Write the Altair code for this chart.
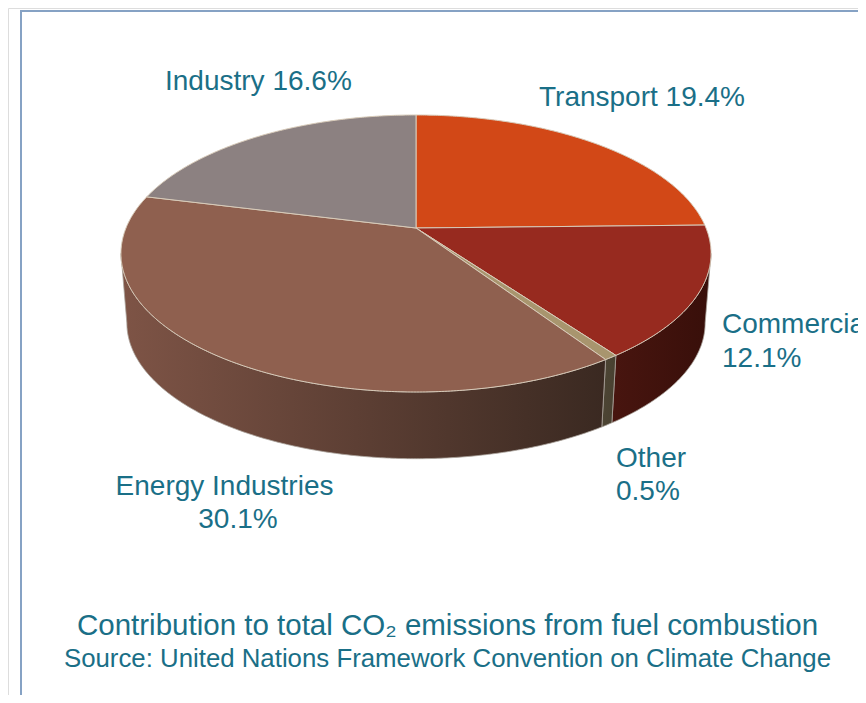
import math
import altair as alt
import pandas as pd

# ---- data ----
sectors = ["Transport", "Commercial", "Other", "Energy Industries", "Industry"]
shares = [19.4, 12.1, 0.5, 30.1, 16.6]
top_colors = ["#D24817", "#972A1F", "#A8956E", "#8F604F", "#8C8181"]
wall_colors = {"Commercial": ("#48150F", "#380F0A"),
               "Other": ("#4D4534", "#484030"),
               "Energy Industries": ("#7E5446", "#3A2921")}
title_line = "Contribution to total CO\u2082 emissions from fuel combustion"
source_line = "Source: United Nations Framework Convention on Climate Change"

# ---- pie geometry (perspective ellipse), in chart pixels ----
CX, CY = 408.0, 220.0   # apex of the pie
A, B, K = 133.8, 290.0, 0.184
DEPTH, BOT_SCALE = 70.0, 0.98


def rim(phi, bottom=False):
    r = math.radians(phi)
    u, v = math.sin(r), -math.cos(r)
    s = 1.0 / (1.0 - K * v)
    sc = BOT_SCALE if bottom else 1.0
    return [CX + B * u * s * sc, CY + (DEPTH if bottom else 0.0) + A * v * s * sc]


def arc(a, b, bottom=False):
    n = max(2, int(abs(b - a) / 0.5) + 1)
    return [rim(a + (b - a) * i / (n - 1), bottom) for i in range(n)]


total = sum(shares)
starts, ends = [], []
acc = 0.0
for s in shares:
    starts.append(acc / total * 360.0)
    acc += s
    ends.append(acc / total * 360.0)

# visible front arc of the side wall (between the right and left extremes)
front_a = 180.0 - math.degrees(math.acos(K))
front_b = 360.0 - front_a

PROJ = dict(type="identity", scale=1, translate=[0, 0])

top_features = []
for name, a, b, col in zip(sectors, starts, ends, top_colors):
    ring = [[CX, CY]] + arc(a, b) + [[CX, CY]]
    top_features.append({"type": "Feature",
                         "geometry": {"type": "Polygon", "coordinates": [ring]},
                         "properties": {"name": name, "fill": col}})

wall_layers = []
for name, a, b in zip(sectors, starts, ends):
    lo, hi = max(a, front_a), min(b, front_b)
    if hi <= lo or name not in wall_colors:
        continue
    ring = arc(lo, hi) + arc(hi, lo, bottom=True)
    ring.append(ring[0])
    feat = {"type": "Feature",
            "geometry": {"type": "Polygon", "coordinates": [ring]},
            "properties": {"name": name}}
    c0, c1 = wall_colors[name]
    wall_layers.append(
        alt.Chart(alt.Data(values=[feat])).mark_geoshape(
            fill=alt.Gradient(gradient="linear",
                              stops=[alt.GradientStop(color=c0, offset=0),
                                     alt.GradientStop(color=c1, offset=1)],
                              x1=0, x2=1, y1=0, y2=0),
            stroke="#a9a29b", strokeWidth=0.8
        ).project(**PROJ)
    )

tops = alt.Chart(alt.Data(values=top_features)).mark_geoshape(
    stroke="#d8cbb9", strokeWidth=1
).encode(
    fill=alt.Fill("properties.fill:N", scale=None)
).project(**PROJ)

TEAL = "#1A6F87"
FONT = "Liberation Sans"


def label(text, x, y, size=28, align="left"):
    return alt.Chart(pd.DataFrame({"t": [text]})).mark_text(
        font=FONT, fontSize=size, color=TEAL, align=align,
        baseline="alphabetic", clip=True
    ).encode(text="t:N", x=alt.value(x), y=alt.value(y))


pct = {n: f"{s}%" for n, s in zip(sectors, shares)}
labels = [
    label(f"Industry {pct['Industry']}", 157, 82),
    label(f"Transport {pct['Transport']}", 531, 98),
    label("Commercial", 714, 325),
    label(pct["Commercial"], 714, 359),
    label("Other", 608, 459),
    label(pct["Other"], 608, 492),
    label("Energy Industries", 216.5, 487, align="center"),
    label(pct["Energy Industries"], 230, 520, align="center"),
    label(title_line, 439.5, 627, size=29.5, align="center"),
    label(source_line, 439.5, 659, size=25.8, align="center"),
]

frame = [
    alt.Chart(pd.DataFrame({"k": [0]})).mark_rule(color="#86A2C4", strokeWidth=2).encode(
        x=alt.value(13), y=alt.value(3), y2=alt.value(700)),
    alt.Chart(pd.DataFrame({"k": [0]})).mark_rule(color="#86A2C4", strokeWidth=2).encode(
        x=alt.value(12), x2=alt.value(900), y=alt.value(3)),
]

chart = alt.layer(*frame, *wall_layers, tops, *labels).properties(
    width=850, height=687,
    autosize=alt.AutoSizeParams(type="none"),
    padding=0,
).configure_view(stroke=None, clip=True).configure(background="white")

chart.save("out.html", embed_options={"renderer": "svg", "actions": False})
